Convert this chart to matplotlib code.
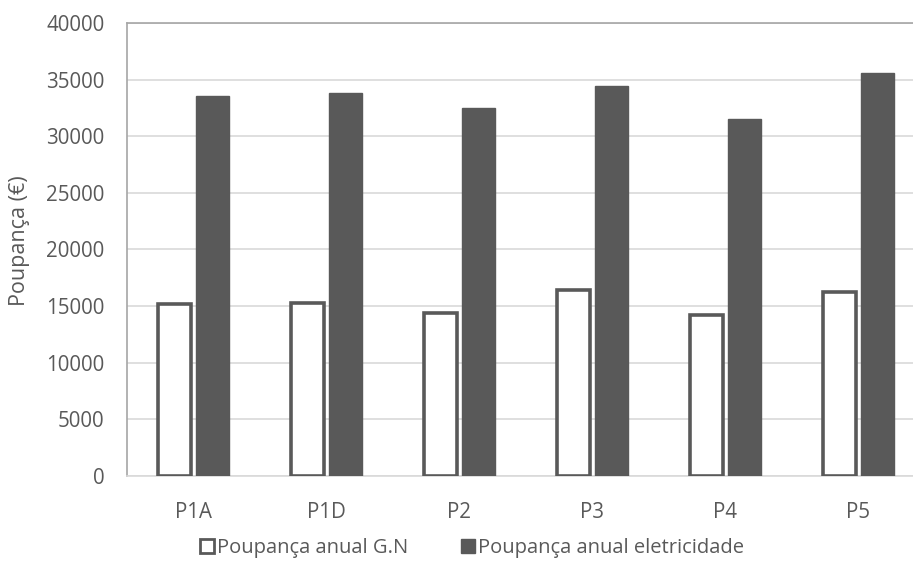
import matplotlib
matplotlib.use("Agg")
import numpy as np
import matplotlib.pyplot as plt
from matplotlib.patches import Patch

plt.rcParams['font.family'] = ['Open Sans', 'DejaVu Sans']

categorias = ["P1A", "P1D", "P2", "P3", "P4", "P5"]
poupanca_gn = [15200, 15280, 14390, 16420, 14220, 16250]
poupanca_eletricidade = [33560, 33820, 32490, 34440, 31520, 35590]

cor_escura = "#595959"
cor_texto = "#595959"

fig = plt.figure(figsize=(9.13, 5.72), dpi=100)
ax = fig.add_axes([0.139, 0.168, 0.874, 0.792])

x = np.arange(len(categorias))
largura = 0.245
ax.bar(x - largura / 2 - 0.02, poupanca_gn, largura, color="white",
       edgecolor=cor_escura, linewidth=2.6, zorder=3,
       label="Poupança anual G.N")
ax.bar(x + largura / 2 + 0.02, poupanca_eletricidade, largura, color=cor_escura,
       edgecolor=cor_escura, linewidth=1, zorder=3,
       label="Poupança anual eletricidade")

ax.set_ylim(0, 40000)
ax.set_xlim(-0.5, len(categorias) - 0.5)
ax.set_yticks(np.arange(0, 40001, 5000))
ax.set_xticks(x)
ax.set_xticklabels(categorias)
ax.yaxis.grid(True, color="#d9d9d9", linewidth=1.2, zorder=0)
ax.set_axisbelow(True)

ax.spines["right"].set_visible(False)
ax.spines["left"].set_color("#a6a6a6")
ax.spines["top"].set_color("#a6a6a6")
ax.spines["bottom"].set_color("#d9d9d9")
for lado in ["left", "top", "bottom"]:
    ax.spines[lado].set_linewidth(1.2)

ax.tick_params(axis="both", length=0, labelsize=14.8, colors=cor_texto)
ax.tick_params(axis="x", pad=19)
ax.tick_params(axis="y", pad=16)
ax.set_ylabel("Poupança (€)", fontsize=15.5, color=cor_texto)
ax.yaxis.set_label_coords(-0.122, 0.52)

handles = [Patch(facecolor="white", edgecolor=cor_escura, linewidth=2),
           Patch(facecolor=cor_escura, edgecolor=cor_escura)]
fig.legend(handles, ["Poupança anual G.N", "Poupança anual eletricidade"],
           loc="center", bbox_to_anchor=(0.517, 0.042), ncol=2, frameon=False,
           fontsize=14.5, labelcolor=cor_texto, handlelength=0.7, handleheight=0.7,
           handletextpad=0.15, columnspacing=2.6)

fig.savefig("out.png", dpi=100)
